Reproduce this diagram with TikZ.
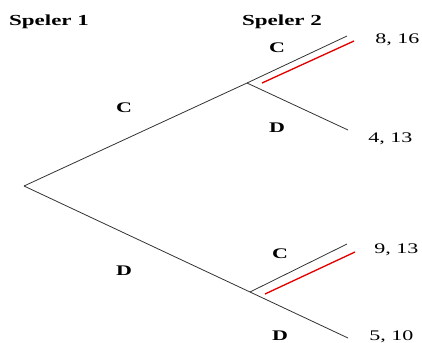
\documentclass[tikz,border=0pt]{standalone}
\usepackage{fontspec}
\setmainfont{Liberation Serif}
\usetikzlibrary{positioning}

\begin{document}
\begin{tikzpicture}[
    x=0.75pt, y=-0.75pt,
    font=\fontsize{11}{13}\selectfont,
    % Styles
    branch/.style={draw=black!80, line width=0.6pt},
    bestline/.style={draw=red!90!black, line width=1pt},
    player/.style={font=\fontsize{11.5}{13}\selectfont\bfseries, anchor=base, inner sep=0pt, xscale=1.5, transform shape},
    move/.style={font=\fontsize{11}{12}\selectfont\bfseries, anchor=base, inner sep=0pt, xscale=1.5, transform shape},
    payoff/.style={anchor=base west, inner sep=0pt, xscale=1.5, transform shape}
]
\useasboundingbox (0,0) rectangle (422,343);

% ========================================================
% DECISION NODES
% ========================================================
\coordinate (root) at (24,186);
\coordinate (p2c) at (247,83);
\coordinate (p2d) at (250,292);

% end points
\coordinate (cc) at (347,36);
\coordinate (cd) at (348,130);
\coordinate (dc) at (347,244);
\coordinate (dd) at (348,338);

% ========================================================
% BRANCHES
% ========================================================
\draw[branch] (root) -- (p2c) -- (cc);
\draw[branch] (p2c) -- (cd);
\draw[branch] (root) -- (p2d) -- (dd);
\draw[branch] (p2d) -- (dc);

% best replies of Speler 2
\coordinate (rc1) at (262,83);
\coordinate (rc2) at (354,41);
\coordinate (rd1) at (265,294);
\coordinate (rd2) at (355,252);
\draw[bestline] (rc1) -- (rc2);
\draw[bestline] (rd1) -- (rd2);

% ========================================================
% LABELS
% ========================================================
\node[player] (sp1) at (49,25) {Speler 1};
\node[player] (sp2) at (282,25) {Speler 2};

\node[move] (mc) at (124,112) {C};
\node[move] (md) at (124,275) {D};
\node[move] (mcc) at (277,52) {C};
\node[move] (mcd) at (277,132) {D};
\node[move] (mdc) at (280,258) {C};
\node[move] (mdd) at (280,340) {D};

\node[payoff] (pcc) at (375,43) {8, 16};
\node[payoff] (pcd) at (368,142) {4, 13};
\node[payoff] (pdc) at (374,253) {9, 13};
\node[payoff] (pdd) at (369,340) {5, 10};

\end{tikzpicture}
\end{document}
